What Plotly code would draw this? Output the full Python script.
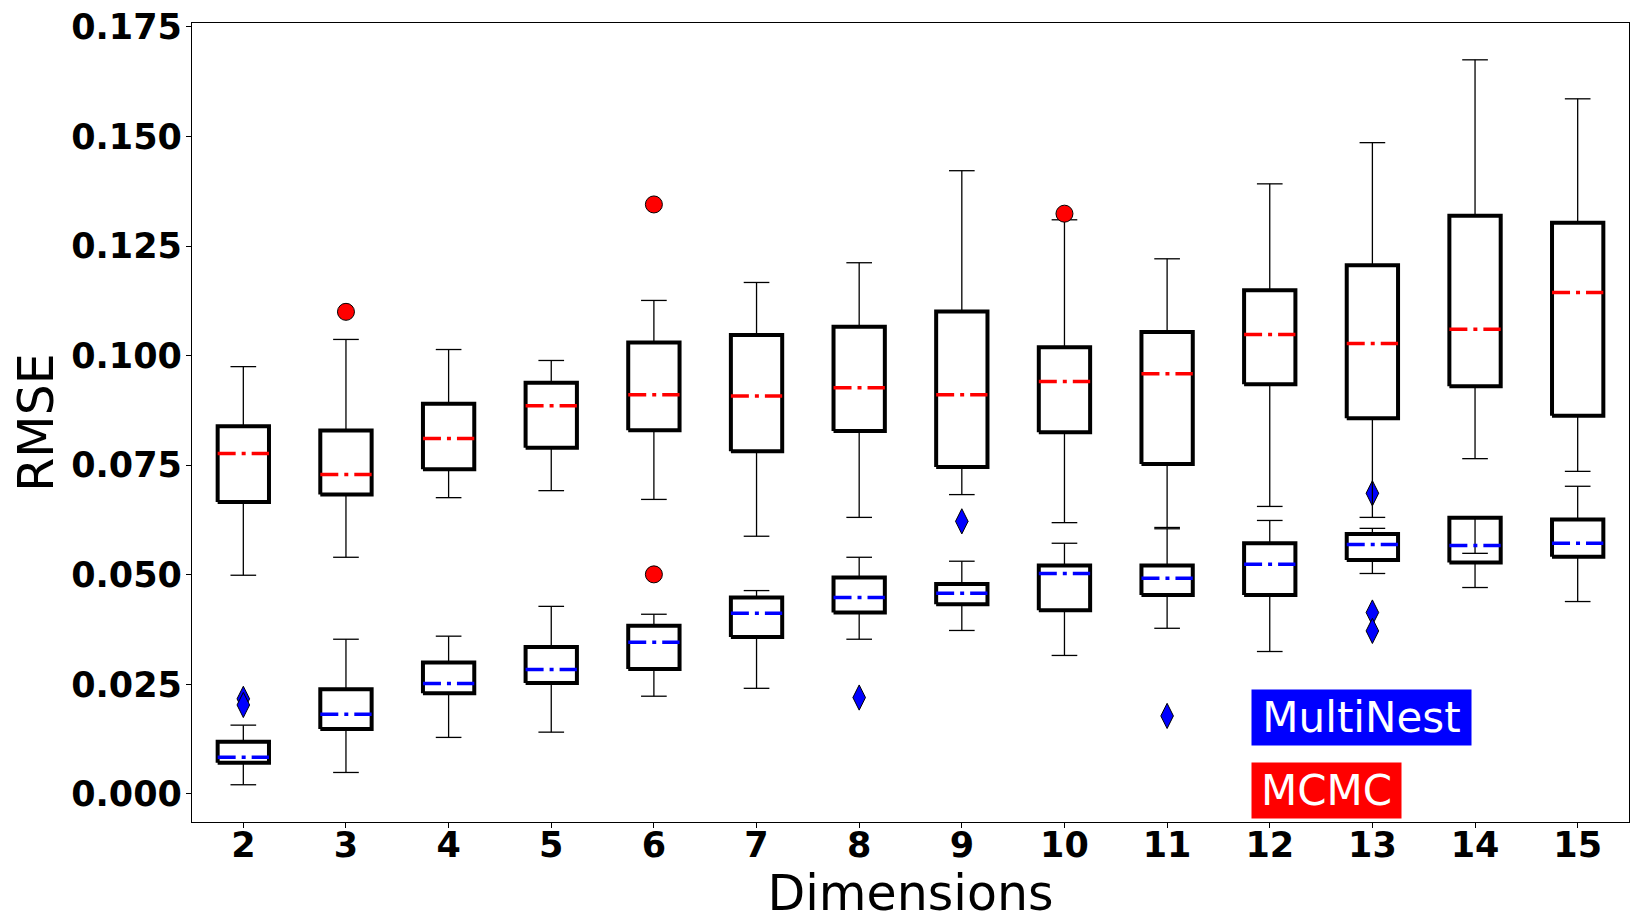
import plotly.graph_objects as go

# box statistics, one value per dimension
dims = list(range(2, 16))

# MCMC
mcmc_lo = [0.0499, 0.0540, 0.0676, 0.0692, 0.0672, 0.0588, 0.0631, 0.0683, 0.0619, 0.0608, 0.0656, 0.0631, 0.0765, 0.0736]
mcmc_q1 = [0.0666, 0.0683, 0.0741, 0.0790, 0.0830, 0.0782, 0.0828, 0.0746, 0.0825, 0.0753, 0.0935, 0.0857, 0.0930, 0.0863]
mcmc_med = [0.0777, 0.0729, 0.0811, 0.0886, 0.0911, 0.0908, 0.0927, 0.0911, 0.0941, 0.0959, 0.1048, 0.1028, 0.1060, 0.1144]
mcmc_q3 = [0.0839, 0.0829, 0.0890, 0.0938, 0.1030, 0.1047, 0.1066, 0.1101, 0.1019, 0.1054, 0.1149, 0.1206, 0.1319, 0.1303]
mcmc_hi = [0.0975, 0.1037, 0.1014, 0.0989, 0.1126, 0.1167, 0.1212, 0.1422, 0.1310, 0.1221, 0.1392, 0.1486, 0.1675, 0.1586]
mcmc_out = [[], [0.1100], [], [], [0.1345, 0.0501], [], [], [], [0.1324], [], [], [], [], []]

# MultiNest
mn_lo = [0.0021, 0.0049, 0.0129, 0.0141, 0.0223, 0.0241, 0.0353, 0.0373, 0.0316, 0.0378, 0.0325, 0.0503, 0.0471, 0.0439]
mn_q1 = [0.0071, 0.0148, 0.0230, 0.0253, 0.0285, 0.0358, 0.0414, 0.0433, 0.0419, 0.0454, 0.0454, 0.0534, 0.0528, 0.0541]
mn_med = [0.0084, 0.0182, 0.0252, 0.0284, 0.0346, 0.0412, 0.0448, 0.0458, 0.0503, 0.0492, 0.0524, 0.0569, 0.0567, 0.0572]
mn_q3 = [0.0119, 0.0239, 0.0300, 0.0335, 0.0384, 0.0448, 0.0494, 0.0479, 0.0521, 0.0521, 0.0572, 0.0593, 0.0630, 0.0626]
mn_hi = [0.0157, 0.0353, 0.0360, 0.0428, 0.0410, 0.0464, 0.0540, 0.0531, 0.0572, 0.0605, 0.0624, 0.0606, 0.0549, 0.0702]
mn_out = [[0.0217, 0.0203], [], [], [], [], [], [0.0220], [0.0622], [], [0.0178], [], [0.0686, 0.0414, 0.0372], [], []]

HALF = 0.25   # half box width
CAP = 0.125   # half cap width
FONT = "DejaVu Sans"


def add_group(fig, lo, q1, med, q3, hi, out, color, symbol, msize):
    bx, by, wx, wy, cx, cy, mx, my, ox, oy = [], [], [], [], [], [], [], [], [], []
    for d, a, b, m, c, h, o in zip(dims, lo, q1, med, q3, hi, out):
        wx += [d, d, None, d, d, None]
        wy += [b, a, None, c, h, None]
        cx += [d - CAP, d + CAP, None, d - CAP, d + CAP, None]
        cy += [a, a, None, h, h, None]
        bx += [d - HALF, d + HALF, d + HALF, d - HALF, d - HALF, None]
        by += [b, b, c, c, b, None]
        mx += [d - HALF, d + HALF, None]
        my += [m, m, None]
        for v in o:
            ox.append(d)
            oy.append(v)
    fig.add_trace(go.Scatter(x=wx, y=wy, mode="lines", line=dict(color="black", width=1.3)))
    fig.add_trace(go.Scatter(x=cx, y=cy, mode="lines", line=dict(color="black", width=1.3)))
    fig.add_trace(go.Scatter(x=bx, y=by, mode="lines", line=dict(color="black", width=4)))
    fig.add_trace(go.Scatter(x=mx, y=my, mode="lines",
                             line=dict(color=color, width=3.5, dash="18px,6px,4px,6px")))
    fig.add_trace(go.Scatter(x=ox, y=oy, mode="markers",
                             marker=dict(symbol=symbol, size=msize, color=color,
                                         line=dict(color="black", width=1))))


fig = go.Figure()
add_group(fig, mn_lo, mn_q1, mn_med, mn_q3, mn_hi, mn_out, "blue", "diamond-tall", 18)
add_group(fig, mcmc_lo, mcmc_q1, mcmc_med, mcmc_q3, mcmc_hi, mcmc_out, "red", "circle", 17)

# text labels in the lower right corner
fig.add_annotation(text="MultiNest", xref="paper", yref="paper", x=0.737, y=0.1665,
                   xanchor="left", yanchor="top", showarrow=False, bgcolor="blue",
                   borderpad=3, width=213, height=49,
                   font=dict(family=FONT, size=42, color="white"))
fig.add_annotation(text="MCMC", xref="paper", yref="paper", x=0.737, y=0.0755,
                   xanchor="left", yanchor="top", showarrow=False, bgcolor="red",
                   borderpad=3, width=143, height=49,
                   font=dict(family=FONT, size=42, color="white"))

fig.update_layout(
    width=1646, height=920,
    margin=dict(l=184, r=25, t=15, b=106),
    plot_bgcolor="white", paper_bgcolor="white",
    showlegend=False,
    xaxis=dict(range=[1.5, 15.5], tickvals=dims, showgrid=False, zeroline=False,
               showline=True, mirror=True, linecolor="black", linewidth=1.3,
               ticks="outside", ticklen=5, tickcolor="black", automargin=False,
               ticklabelstandoff=-13, ticklabeloverflow="allow",
               tickfont=dict(family=FONT, size=35, color="black", weight="bold"),
               title=dict(text="Dimensions", standoff=10,
                          font=dict(family=FONT, size=49, color="black"))),
    yaxis=dict(range=[-0.0064, 0.1759], dtick=0.025, tickformat=".3f", showgrid=False,
               zeroline=False, showline=True, mirror=True, linecolor="black",
               linewidth=1.3, ticks="outside", ticklen=5, tickcolor="black",
               automargin=False, ticklabelstandoff=-3, ticklabeloverflow="allow",
               tickfont=dict(family=FONT, size=35, color="black", weight="bold"),
               title=dict(text="RMSE", standoff=2,
                          font=dict(family=FONT, size=49, color="black"))),
)

fig.write_html("out.html")
